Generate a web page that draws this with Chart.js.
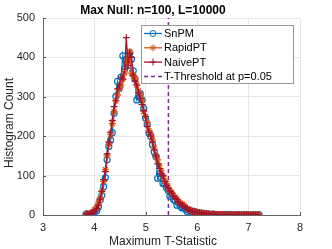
<!DOCTYPE html>
<html>
<head>
  <meta charset="UTF-8">
  <style>
    body { margin: 0; background: #fff; }
    #wrap { width: 332px; height: 249px; position: relative; }
  </style>
</head>
<body>
  <div id="wrap"><canvas id="max_null_chart"></canvas></div>

  <script src="https://cdn.jsdelivr.net/npm/chart.js"></script>
  <script>
    // bin centres of the max T histogram
    const tBins = [3.840, 3.874, 3.908, 3.942, 3.976, 4.010, 4.044, 4.078, 4.112, 4.145,
      4.179, 4.213, 4.247, 4.281, 4.315, 4.349, 4.383, 4.417, 4.451, 4.485,
      4.519, 4.553, 4.587, 4.621, 4.655, 4.688, 4.722, 4.756, 4.790, 4.824,
      4.858, 4.892, 4.926, 4.960, 4.994, 5.028, 5.062, 5.096, 5.130, 5.164,
      5.198, 5.231, 5.265, 5.299, 5.333, 5.367, 5.401, 5.435, 5.469, 5.503,
      5.537, 5.571, 5.605, 5.639, 5.673, 5.707, 5.741, 5.774, 5.808, 5.842,
      5.876, 5.910, 5.944, 5.978, 6.012, 6.046, 6.080, 6.114, 6.148, 6.182,
      6.216, 6.250, 6.284, 6.317, 6.351, 6.385, 6.419, 6.453, 6.487, 6.521,
      6.555, 6.589, 6.623, 6.657, 6.691, 6.725, 6.759, 6.793, 6.827, 6.860,
      6.894, 6.928, 6.962, 6.996, 7.030, 7.064, 7.098, 7.132, 7.166, 7.200]

    const snpmCounts = [2, 0, 1, 3, 5, 8, 11, 20, 38, 50,
      72, 95, 140, 174, 190, 209, 258, 301, 339, 322,
      350, 404, 370, 395, 380, 411, 395, 366, 345, 292,
      300, 308, 292, 270, 246, 230, 208, 200, 178, 160,
      148, 93, 105, 95, 80, 78, 70, 62, 47, 52,
      40, 36, 25, 30, 22, 18, 20, 14, 8, 12,
      10, 7, 9, 5, 6, 4, 5, 2, 3, 1,
      3, 1, 0, 2, 1, 0, 1, 0, 0, 1,
      0, 0, 1, 0, 0, 0, 1, 0, 0, 0,
      0, 0, 1, 0, 0, 0, 0, 0, 0, 1]

    const rapidptCounts = [1, 3, 4, 6, 9, 14, 20, 30, 42, 60,
      85, 115, 150, 180, 205, 232, 262, 290, 305, 320,
      330, 345, 360, 385, 400, 415, 360, 352, 345, 330,
      315, 305, 290, 262, 250, 235, 215, 205, 190, 170,
      150, 140, 125, 112, 98, 88, 80, 70, 62, 58,
      50, 45, 40, 34, 30, 28, 25, 20, 16, 14,
      12, 10, 9, 8, 7, 6, 5, 5, 4, 3,
      3, 2, 2, 2, 1, 2, 1, 1, 1, 0,
      1, 1, 0, 1, 0, 1, 0, 0, 1, 0,
      0, 1, 0, 0, 0, 1, 0, 0, 0, 1]

    const naiveptCounts = [3, 2, 2, 5, 7, 10, 16, 25, 40, 60,
      90, 110, 155, 185, 210, 240, 275, 290, 320, 330,
      350, 345, 370, 450, 380, 410, 400, 355, 340, 330,
      310, 295, 280, 265, 250, 225, 210, 200, 185, 165,
      150, 130, 118, 105, 100, 85, 75, 68, 60, 55,
      48, 42, 40, 32, 28, 24, 22, 18, 15, 13,
      11, 9, 8, 7, 6, 5, 4, 4, 3, 3,
      2, 2, 1, 2, 1, 1, 0, 1, 1, 0,
      1, 0, 0, 1, 0, 0, 0, 1, 0, 0,
      1, 0, 0, 0, 0, 0, 1, 0, 0, 0]

    const tThreshold = 5.44
    const seriesLabels = ['SnPM', 'RapidPT', 'NaivePT', 'T-Threshold at p=0.05']

    const toPoints = (counts) => tBins.map((x, i) => ({x: x, y: counts[i]}))

    Chart.defaults.font.family = "'Liberation Sans', Arial, sans-serif"
    Chart.defaults.color = '#262626'

    // matlab style: inward ticks
    const innerTicks = {
      id: 'innerTicks',
      beforeDatasetsDraw(chart){
        const ctx = chart.ctx
        const a = chart.chartArea
        ctx.save()
        ctx.strokeStyle = '#555'
        ctx.lineWidth = 1
        ctx.beginPath()
        chart.scales.y.ticks.forEach(t => {
          const y = Math.round(chart.scales.y.getPixelForValue(t.value)) + 0.5
          ctx.moveTo(a.left, y); ctx.lineTo(a.left + 3, y)
        })
        chart.scales.x.ticks.forEach(t => {
          const x = Math.round(chart.scales.x.getPixelForValue(t.value)) + 0.5
          ctx.moveTo(x, a.bottom); ctx.lineTo(x, a.bottom - 3)
        })
        ctx.stroke()
        ctx.restore()
      }
    }

    // legend box in the upper right + title / axis labels
    const boxLegend = {
      id: 'boxLegend',
      afterDraw(chart){
        const ctx = chart.ctx
        ctx.save()
        const bx = 141.5, by = 25.5, bw = 152, bh = 58
        ctx.fillStyle = '#fff'
        ctx.fillRect(bx, by, bw, bh)
        ctx.strokeStyle = '#999'
        ctx.lineWidth = 1
        ctx.strokeRect(bx, by, bw, bh)
        ctx.font = "11px 'Liberation Sans', Arial, sans-serif"
        ctx.textBaseline = 'middle'
        chart.data.datasets.forEach((ds, i) => {
          const y = 33.5 + i * 14.3
          ctx.strokeStyle = ds.borderColor
          ctx.lineWidth = ds.borderWidth
          ctx.setLineDash(ds.borderDash || [])
          ctx.beginPath()
          ctx.moveTo(144, y); ctx.lineTo(162, y)
          ctx.stroke()
          ctx.setLineDash([])
          if(ds.pointStyle && ds.pointRadius){
            ctx.fillStyle = ds.pointBackgroundColor
            ctx.lineWidth = 1
            Chart.helpers.drawPoint(ctx, {pointStyle: ds.pointStyle, radius: ds.pointRadius, borderWidth: 1, rotation: 0}, 153, y)
          }
          ctx.fillStyle = '#000'
          ctx.fillText(ds.label, 164, y + 0.5)
        })
        ctx.fillStyle = '#000'
        ctx.textBaseline = 'alphabetic'
        ctx.textAlign = 'center'
        ctx.font = "bold 12px 'Liberation Sans', Arial, sans-serif"
        ctx.fillText('Max Null: n=100, L=10000', 153, 13.5)
        ctx.fillStyle = '#262626'
        ctx.font = "12px 'Liberation Sans', Arial, sans-serif"
        ctx.fillText('Maximum T-Statistic', 163, 245)
        ctx.translate(12.5, 123)
        ctx.rotate(-Math.PI / 2)
        ctx.fillText('Histogram Count', 0, 0)
        ctx.restore()
      }
    }

    const ctxEl = document.getElementById('max_null_chart')
    const chart = new Chart(ctxEl, {
      type: 'line',
      data: {
        datasets: [{
          label: seriesLabels[0],
          data: toPoints(snpmCounts),
          borderColor: '#0072BD',
          pointBackgroundColor: 'rgba(0,0,0,0)',
          pointBorderColor: '#0072BD',
          pointStyle: 'circle',
          pointRadius: 3,
          pointBorderWidth: 1.2,
          borderWidth: 1.3,
          order: 3
        }, {
          label: seriesLabels[1],
          data: toPoints(rapidptCounts),
          borderColor: '#D95319',
          pointBackgroundColor: '#D95319',
          pointBorderColor: '#D95319',
          pointStyle: 'star',
          pointRadius: 3.5,
          pointBorderWidth: 1.2,
          borderWidth: 1.3,
          order: 2
        }, {
          label: seriesLabels[2],
          data: toPoints(naiveptCounts),
          borderColor: '#A2142F',
          pointBackgroundColor: '#A2142F',
          pointBorderColor: '#A2142F',
          pointStyle: 'cross',
          pointRadius: 3.5,
          pointBorderWidth: 1.2,
          borderWidth: 1.3,
          order: 1
        }, {
          label: seriesLabels[3],
          data: [{x: tThreshold, y: 0}, {x: tThreshold, y: 500}],
          borderColor: '#7E2F8E',
          borderDash: [4, 3],
          pointRadius: 0,
          pointStyle: false,
          borderWidth: 1.5,
          order: 4
        }]
      },
      options: {
        responsive: true,
        maintainAspectRatio: false,
        animation: false,
        layout: { padding: {top: 18, right: 32, left: 0, bottom: 0} },
        plugins: {
          legend: { display: false },
          title: { display: false },
          tooltip: { enabled: false }
        },
        scales: {
          x: {
            type: 'linear',
            min: 3,
            max: 8,
            ticks: { stepSize: 1, padding: 6, font: {size: 11}, color: '#262626' },
            grid: { color: '#e6e6e6', drawTicks: false },
            border: { color: '#666' },
            afterFit: (s) => { s.height = 34 }
          },
          y: {
            min: 0,
            max: 500,
            ticks: { stepSize: 100, padding: 8, font: {size: 11}, color: '#262626' },
            grid: { color: '#e6e6e6', drawTicks: false },
            border: { color: '#666' },
            afterFit: (s) => { s.width = 43 }
          }
        }
      },
      plugins: [innerTicks, boxLegend]
    })
  </script>
</body>
</html>
